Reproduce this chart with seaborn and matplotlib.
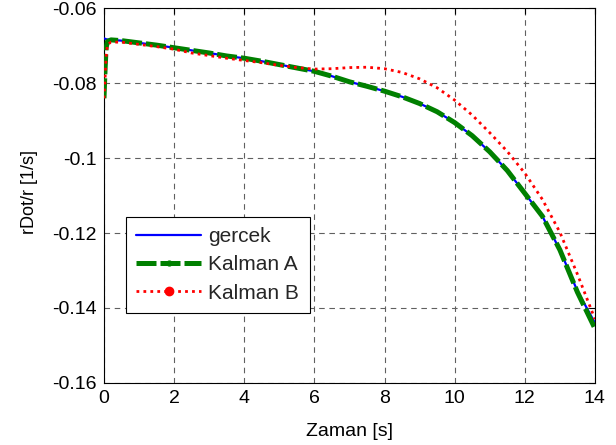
import matplotlib
matplotlib.use("Agg")
import matplotlib.pyplot as plt
from matplotlib.lines import Line2D
import seaborn as sns
import pandas as pd

# ---- data ----
time = [0, 0.03, 0.06, 0.1, 0.2, 0.5, 1, 1.5, 2, 2.5, 3, 3.5, 4, 4.5, 5, 5.5,
        6, 6.5, 7, 7.5, 8, 8.5, 9, 9.5, 10, 10.5, 11, 11.5, 12, 12.5, 13, 13.5, 14]

gercek = [-0.0680, -0.0681, -0.0682, -0.0683, -0.0684, -0.0686, -0.0692, -0.0698,
          -0.0705, -0.0712, -0.0719, -0.0727, -0.0733, -0.0741, -0.0750, -0.0759,
          -0.0768, -0.0781, -0.0796, -0.0808, -0.0821, -0.0836, -0.0854, -0.0876,
          -0.0905, -0.0940, -0.0983, -0.1033, -0.1094, -0.1155, -0.1245, -0.1355, -0.1440]

kalman_a = [-0.0840, -0.0765, -0.0705, -0.0688, -0.0684, -0.0686, -0.0692, -0.0698,
            -0.0705, -0.0712, -0.0719, -0.0727, -0.0733, -0.0741, -0.0750, -0.0759,
            -0.0768, -0.0781, -0.0796, -0.0808, -0.0821, -0.0836, -0.0854, -0.0876,
            -0.0905, -0.0940, -0.0983, -0.1033, -0.1094, -0.1155, -0.1245, -0.1358, -0.1455]

kalman_b = [-0.0840, -0.0790, -0.0730, -0.0696, -0.0690, -0.0690, -0.0696, -0.0702,
            -0.0709, -0.0719, -0.0726, -0.0733, -0.0739, -0.0745, -0.0752, -0.0758,
            -0.0762, -0.0761, -0.0758, -0.0757, -0.0761, -0.0771, -0.0788, -0.0812,
            -0.0845, -0.0885, -0.0932, -0.0982, -0.1040, -0.1110, -0.1198, -0.1310, -0.1430]

series_labels = ["gercek", "Kalman A", "Kalman B"]
x_ticks = [0, 2, 4, 6, 8, 10, 12, 14]
x_tick_labels = ["0", "2", "4", "6", "8", "10", "12", "14"]
y_ticks = [-0.16, -0.14, -0.12, -0.10, -0.08, -0.06]
y_tick_labels = ["-0.16", "-0.14", "-0.12", "-0.1", "-0.08", "-0.06"]
x_label = "Zaman [s]"
y_label = "rDot/r [1/s]"

df = pd.DataFrame({"t": time, "gercek": gercek, "ka": kalman_a, "kb": kalman_b})

sns.set_theme(style="white")
plt.rcParams["font.family"] = ["Liberation Sans", "DejaVu Sans"]

fig = plt.figure(figsize=(6.16, 4.45), dpi=100)
ax = fig.add_axes([0.1688, 0.140, 0.797, 0.841])

sns.lineplot(data=df, x="t", y="gercek", ax=ax, color="#0000ff", linewidth=1.6,
             sort=False, estimator=None, zorder=3)
sns.lineplot(data=df, x="t", y="ka", ax=ax, color="#008000", linewidth=3.6,
             sort=False, estimator=None, zorder=4)
ax.lines[-1].set_dashes((4, 0.8))
sns.lineplot(data=df, x="t", y="kb", ax=ax, color="#ff0000", linewidth=2.0,
             sort=False, estimator=None, zorder=5)
ax.lines[-1].set_dashes((1.0, 1.5))

ax.set_xlim(0, 14)
ax.set_ylim(-0.16, -0.06)
ax.set_xticks(x_ticks)
ax.set_xticklabels(x_tick_labels)
ax.set_yticks(y_ticks)
ax.set_yticklabels(y_tick_labels)

ax.grid(True, color="#606060", linestyle=(0, (5, 4.2)), linewidth=0.8)
ax.set_axisbelow(True)
for s in ax.spines.values():
    s.set_color("black")
    s.set_linewidth(0.8)
ax.tick_params(direction="in", length=4, width=0.8, top=True, right=True,
               labelsize=14, colors="black", pad=5)

ax.set_xlabel(x_label, fontsize=14, color="black", labelpad=12)
ax.set_ylabel(y_label, fontsize=13, color="black")
ax.yaxis.set_label_coords(-0.134, 0.51)

handles = [
    Line2D([], [], color="#0000ff", linewidth=1.6),
    Line2D([], [], color="#008000", linewidth=3.6, dashes=(4, 0.8), marker=".", markersize=7),
    Line2D([], [], color="#ff0000", linewidth=2.0, dashes=(1.0, 1.5), marker=".", markersize=12),
]
leg = ax.legend(handles, series_labels, loc="lower left", bbox_to_anchor=(0.045, 0.186),
                borderaxespad=0, fontsize=15, frameon=True, fancybox=False,
                edgecolor="black", framealpha=1, handlelength=3.1, handletextpad=0.35,
                labelspacing=0.45, borderpad=0.5)
leg.get_frame().set_linewidth(0.8)

fig.savefig("out.png", dpi=100)
